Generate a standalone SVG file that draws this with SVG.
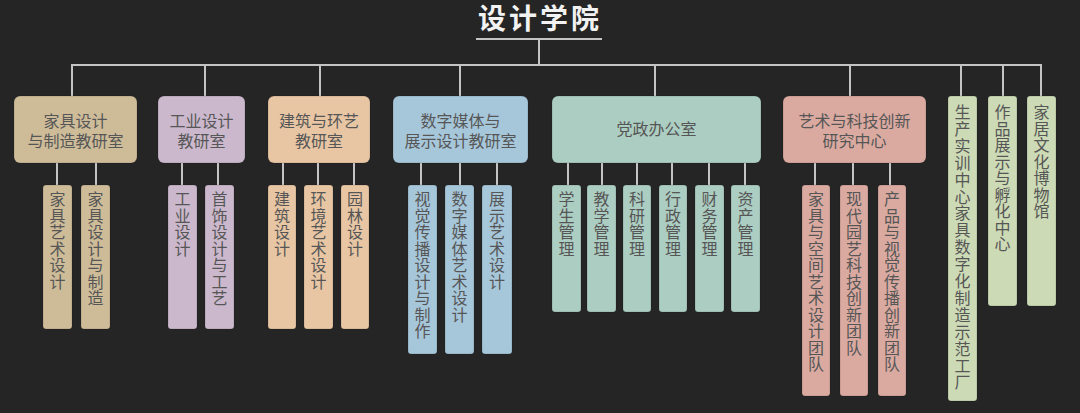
<svg xmlns="http://www.w3.org/2000/svg" width="1080" height="413" viewBox="0 0 1080 413">
<style>
.bg{fill:#252525}
.ln{stroke:#c4c4c4;stroke-width:2;fill:none}
.box{stroke:#000;stroke-opacity:0.15;stroke-width:1}
.t{font-family:"Noto Sans CJK SC","Noto Sans",sans-serif;font-size:16px;fill:#565656;text-anchor:middle}
.v{font-family:"Noto Sans CJK SC","Noto Sans",sans-serif;font-size:16px;fill:#565656;writing-mode:vertical-rl;letter-spacing:0.5px}
.title{font-family:"Noto Sans CJK SC","Noto Sans",sans-serif;font-size:28px;font-weight:bold;fill:#f2f2f2;text-anchor:middle;letter-spacing:3px}
.c1{fill:#cebc99}.c2{fill:#cbb8cc}.c3{fill:#e8c6a4}.c4{fill:#a6c6da}.c5{fill:#accdc1}.c6{fill:#daaaa1}.c7{fill:#ccdab5}
</style>
<rect class="bg" x="0" y="0" width="1080" height="413"/>
<g id="title">
<text class="title" x="540" y="29">设计学院</text>
</g>
<g id="connectors">
<path class="ln" d="M476 39H602M539 39V65M72 96V65H1041V96M205 65V96M320 65V96M460 65V96M655 65V96M850 65V96M961 65V96M1003 65V96"/>
<path class="ln" d="M57 163V185M96 163V185M182 163V185M218 163V185M283 163V185M318 163V185M354 163V185M421 163V185M460 163V185M497 163V185M568 163V185M602 163V185M637 163V185M672 163V185M709 163V185M745 163V185M815 163V185M853 163V185M890 163V185"/>
</g>
<g id="n-jiaju">
<rect class="box c1" x="14" y="96" width="123" height="67" rx="6"/>
<text class="t" x="75.5" y="127">家具设计</text>
<text class="t" x="75.5" y="147">与制造教研室</text>
</g>
<g id="n-jiaju-1"><rect class="box c1" x="43" y="185" width="29" height="144" rx="3"/><text class="v" x="57.5" y="191">家具艺术设计</text></g>
<g id="n-jiaju-2"><rect class="box c1" x="81" y="185" width="29" height="144" rx="3"/><text class="v" x="95.5" y="191">家具设计与制造</text></g>
<g id="n-gongye">
<rect class="box c2" x="158" y="96" width="87" height="67" rx="6"/>
<text class="t" x="201.5" y="127">工业设计</text>
<text class="t" x="201.5" y="147">教研室</text>
</g>
<g id="n-gongye-1"><rect class="box c2" x="168" y="185" width="29" height="144" rx="3"/><text class="v" x="182.5" y="191">工业设计</text></g>
<g id="n-gongye-2"><rect class="box c2" x="205" y="185" width="29" height="144" rx="3"/><text class="v" x="219.5" y="191">首饰设计与工艺</text></g>
<g id="n-jianzhu">
<rect class="box c3" x="268" y="96" width="102" height="67" rx="6"/>
<text class="t" x="319" y="127">建筑与环艺</text>
<text class="t" x="319" y="147">教研室</text>
</g>
<g id="n-jianzhu-1"><rect class="box c3" x="268" y="185" width="28" height="144" rx="3"/><text class="v" x="282" y="191">建筑设计</text></g>
<g id="n-jianzhu-2"><rect class="box c3" x="304" y="185" width="29" height="144" rx="3"/><text class="v" x="318.5" y="191">环境艺术设计</text></g>
<g id="n-jianzhu-3"><rect class="box c3" x="341" y="185" width="28" height="144" rx="3"/><text class="v" x="355" y="191">园林设计</text></g>
<g id="n-shuzi">
<rect class="box c4" x="393" y="96" width="135" height="67" rx="6"/>
<text class="t" x="460.5" y="127">数字媒体与</text>
<text class="t" x="460.5" y="147">展示设计教研室</text>
</g>
<g id="n-shuzi-1"><rect class="box c4" x="408" y="185" width="29" height="169" rx="3"/><text class="v" x="422.5" y="191">视觉传播设计与制作</text></g>
<g id="n-shuzi-2"><rect class="box c4" x="445" y="185" width="29" height="169" rx="3"/><text class="v" x="459.5" y="191">数字媒体艺术设计</text></g>
<g id="n-shuzi-3"><rect class="box c4" x="482" y="185" width="30" height="169" rx="3"/><text class="v" x="497" y="191">展示艺术设计</text></g>
<g id="n-dangzheng">
<rect class="box c5" x="552" y="96" width="209" height="67" rx="6"/>
<text class="t" x="656.5" y="135">党政办公室</text>
</g>
<g id="n-dz-1"><rect class="box c5" x="552" y="185" width="29" height="127" rx="3"/><text class="v" x="566.5" y="191">学生管理</text></g>
<g id="n-dz-2"><rect class="box c5" x="587" y="185" width="29" height="127" rx="3"/><text class="v" x="601.5" y="191">教学管理</text></g>
<g id="n-dz-3"><rect class="box c5" x="623" y="185" width="28" height="127" rx="3"/><text class="v" x="637" y="191">科研管理</text></g>
<g id="n-dz-4"><rect class="box c5" x="659" y="185" width="28" height="127" rx="3"/><text class="v" x="673" y="191">行政管理</text></g>
<g id="n-dz-5"><rect class="box c5" x="695" y="185" width="29" height="127" rx="3"/><text class="v" x="709.5" y="191">财务管理</text></g>
<g id="n-dz-6"><rect class="box c5" x="731" y="185" width="29" height="127" rx="3"/><text class="v" x="745.5" y="191">资产管理</text></g>
<g id="n-yishu">
<rect class="box c6" x="783" y="96" width="143" height="67" rx="6"/>
<text class="t" x="854.5" y="127">艺术与科技创新</text>
<text class="t" x="854.5" y="147">研究中心</text>
</g>
<g id="n-ys-1"><rect class="box c6" x="802" y="185" width="28" height="211" rx="3"/><text class="v" x="816" y="191">家具与空间艺术设计团队</text></g>
<g id="n-ys-2"><rect class="box c6" x="840" y="185" width="28" height="211" rx="3"/><text class="v" x="854" y="191">现代园艺科技创新团队</text></g>
<g id="n-ys-3"><rect class="box c6" x="878" y="185" width="28" height="211" rx="3"/><text class="v" x="892" y="191">产品与视觉传播创新团队</text></g>
<g id="n-shengchan"><rect class="box c7" x="948" y="96" width="29" height="305" rx="3"/><text class="v" x="962.5" y="104" style="letter-spacing:0.9px">生产实训中心家具数字化制造示范工厂</text></g>
<g id="n-zuopin"><rect class="box c7" x="988" y="96" width="29" height="210" rx="3"/><text class="v" x="1002.5" y="104">作品展示与孵化中心</text></g>
<g id="n-jiaju-museum"><rect class="box c7" x="1027" y="96" width="29" height="210" rx="3"/><text class="v" x="1041.5" y="104">家居文化博物馆</text></g>
</svg>
